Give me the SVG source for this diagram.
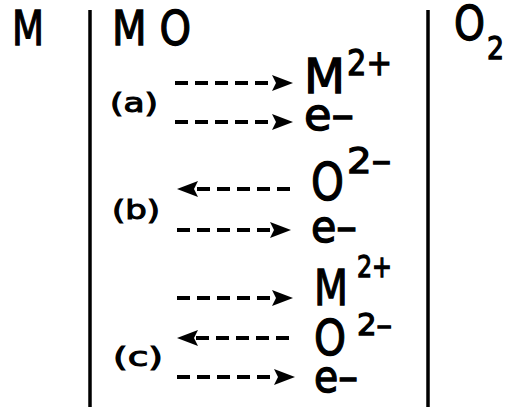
<svg xmlns="http://www.w3.org/2000/svg" xmlns:xlink="http://www.w3.org/1999/xlink" width="510" height="407" viewBox="0 0 510 407">
<style>
.t{font-family:"DejaVu Sans","Liberation Sans",sans-serif;fill:#000;stroke:#000;stroke-width:1.3}
.big{font-size:48px}
.sup{font-size:36px}
.lbl{font-size:27px;stroke-width:1.1}
.wall{stroke:#000;stroke-width:3.5;fill:none}
.arr{stroke:#000;stroke-width:4;fill:none;stroke-dasharray:13 7}
.hd{fill:#000}
</style>
<defs>
<path id="hr" d="M0,0 L-21,-8 L-17,0 L-21,8 Z"/>
<path id="hl" d="M0,0 L21,-8 L17,0 L21,8 Z"/>
</defs>
<g id="walls">
<line class="wall" x1="90" y1="10" x2="90" y2="407"/>
<line class="wall" x1="428" y1="10" x2="428" y2="407"/>
</g>
<g id="header-M"><text class="t big" x="12" y="45" textLength="32" lengthAdjust="spacingAndGlyphs">M</text></g>
<g id="header-MO"><text class="t big" x="112" y="45" textLength="79" lengthAdjust="spacingAndGlyphs">M O</text></g>
<g id="header-O2"><text class="t big" x="454" y="40" textLength="31" lengthAdjust="spacingAndGlyphs">O</text><text class="t" style="font-size:32px" x="487" y="59" textLength="17" lengthAdjust="spacingAndGlyphs">2</text></g>
<g id="labels">
<text class="t lbl" x="110" y="112" textLength="48" lengthAdjust="spacingAndGlyphs">(a)</text>
<text class="t lbl" x="112" y="219" textLength="48" lengthAdjust="spacingAndGlyphs">(b)</text>
<text class="t lbl" x="113" y="366" textLength="50" lengthAdjust="spacingAndGlyphs">(c)</text>
</g>
<g id="species-a">
<text class="t big" x="304" y="93" textLength="41" lengthAdjust="spacingAndGlyphs">M</text>
<text class="t sup" x="347" y="75" textLength="45" lengthAdjust="spacingAndGlyphs">2+</text>
<text class="t" style="font-size:44px" x="304" y="130" textLength="50" lengthAdjust="spacingAndGlyphs">e–</text>
</g>
<g id="species-b">
<text class="t" style="font-size:52px" x="311" y="200" textLength="33" lengthAdjust="spacingAndGlyphs">O</text>
<text class="t sup" x="347" y="173" textLength="44" lengthAdjust="spacingAndGlyphs">2–</text>
<text class="t" style="font-size:44px" x="311" y="242" textLength="46" lengthAdjust="spacingAndGlyphs">e–</text>
</g>
<g id="species-c">
<text class="t" style="font-size:50px" x="314" y="305" textLength="34" lengthAdjust="spacingAndGlyphs">M</text>
<text class="t" style="font-size:30px" x="357" y="277" textLength="35" lengthAdjust="spacingAndGlyphs">2+</text>
<text class="t" style="font-size:50px" x="314" y="355" textLength="32" lengthAdjust="spacingAndGlyphs">O</text>
<text class="t" style="font-size:30px" x="357" y="335" textLength="35" lengthAdjust="spacingAndGlyphs">2–</text>
<text class="t" style="font-size:44px" x="314" y="392" textLength="44" lengthAdjust="spacingAndGlyphs">e–</text>
</g>
<g id="connectors">
<line class="arr" x1="175" y1="83" x2="275" y2="83"/><use class="hd" href="#hr" xlink:href="#hr" x="293" y="83"/>
<line class="arr" x1="175" y1="122" x2="275" y2="122"/><use class="hd" href="#hr" xlink:href="#hr" x="293" y="122"/>
<line class="arr" x1="290" y1="189" x2="195" y2="189"/><use class="hd" href="#hl" xlink:href="#hl" x="177" y="189"/>
<line class="arr" x1="177" y1="230" x2="273" y2="230"/><use class="hd" href="#hr" xlink:href="#hr" x="291" y="230"/>
<line class="arr" x1="177" y1="298" x2="275" y2="298"/><use class="hd" href="#hr" xlink:href="#hr" x="293" y="298"/>
<line class="arr" x1="289" y1="338" x2="195" y2="338"/><use class="hd" href="#hl" xlink:href="#hl" x="177" y="338"/>
<line class="arr" x1="177" y1="377" x2="277" y2="377"/><use class="hd" href="#hr" xlink:href="#hr" x="295" y="377"/>
</g>
</svg>
